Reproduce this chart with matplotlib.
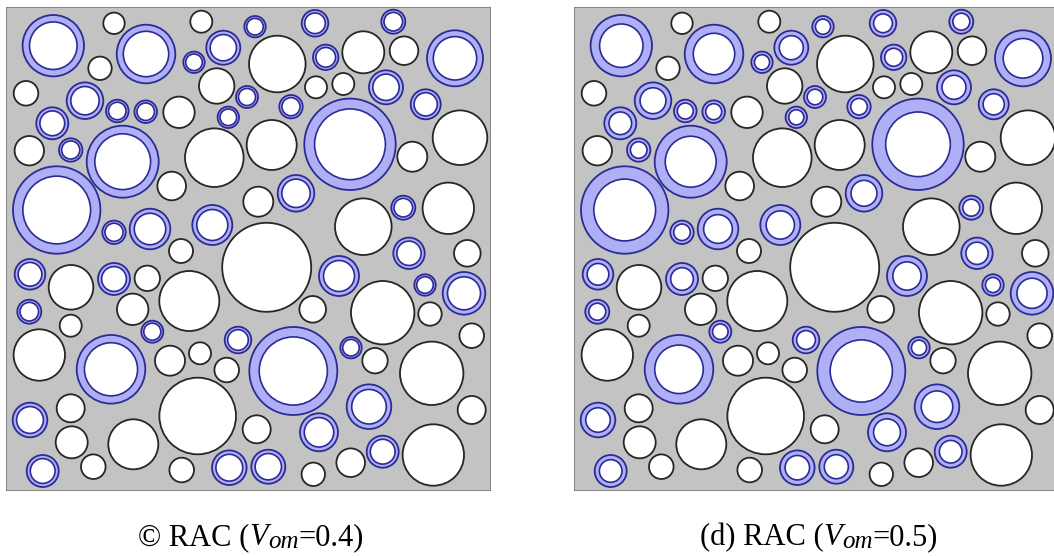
import numpy as np
import matplotlib
matplotlib.use('Agg')
import matplotlib.pyplot as plt
from matplotlib.patches import Circle, Rectangle

# Fonts: Times-like serif for the captions
plt.rcParams['font.family'] = ['Liberation Serif', 'DejaVu Serif']

# Aggregate layout (same in both specimens) in
# specimen units: centre x, centre y, outer radius, recycled (coated) flag
agg_x = [53.3, 114, 146, 201.3, 223.3, 194, 100, 216.7, 26, 85,
         117.3, 145.7, 179, 228.3, 52.3, 29.3, 70.7, 122.7, 214.3, 171.7,
         56.7, 114, 150, 212.3, 255, 315, 393.3, 277.3, 325.7, 363.3,
         404, 455, 316, 343.3, 386, 247, 291, 425.7, 350, 271.7,
         460, 412.3, 296, 258.3, 363.3, 403.3, 448.3, 30, 71, 114,
         147.3, 189.3, 181, 29.3, 70.7, 132.7, 152.3, 39.3, 111, 170,
         200, 238, 226.7, 30, 70.7, 197.7, 71.7, 133.3, 42.7, 93.3,
         181.7, 229.3, 266.7, 409, 467.3, 339, 425, 464, 312.7, 382.7,
         430, 471.7, 293.3, 351, 375, 431.7, 369, 471.7, 319, 256.7,
         382.7, 433.3, 350.7, 268.3, 313.3]
agg_y = [45.7, 23.3, 54, 21.7, 47.7, 62.3, 68.3, 86, 93.3, 100.7,
         111, 111.7, 112.3, 117.3, 123.3, 150.7, 150, 161.7, 157.7, 186,
         210, 232.3, 229, 225, 26.7, 23.3, 21.7, 64, 57.3, 52.3,
         50.7, 58.3, 87.3, 84, 87.3, 97, 106.7, 104.3, 144.3, 145,
         137.7, 156.7, 193.3, 201.7, 226.7, 207.7, 208.3, 274.3, 287.3, 279,
         278.3, 301, 251, 311.7, 325.7, 309.3, 331.7, 355, 369.3, 360.7,
         353.3, 340, 370, 420, 408.3, 416, 442.3, 444.3, 471, 466.7,
         470, 467.7, 267.3, 253.3, 253.3, 276, 285, 293.3, 309.3, 312.7,
         314, 335.7, 371, 347.7, 360.7, 373.3, 406.7, 410, 432.3, 429.3,
         451.7, 455, 462.7, 466.7, 474.3]
agg_r = [30.7, 10.7, 29.3, 11, 17, 10.7, 11.7, 17.7, 12.3, 18.3,
         11.3, 11.3, 15.7, 10.7, 16, 14.7, 11.7, 36, 29.3, 14.3,
         43.7, 11.7, 20.3, 20, 10.7, 13.3, 12, 28.3, 12.7, 21,
         14.3, 28, 11, 11, 17, 11, 11.7, 15, 45.7, 25,
         27.3, 15, 18.3, 15, 28.3, 12, 25.7, 15.3, 22.3, 16,
         12.7, 30, 12, 12, 11, 15.7, 11, 25.7, 34.3, 15,
         11, 13.3, 12.3, 17.3, 14, 38.3, 16, 25, 16, 12.3,
         12.3, 17.3, 44.5, 15.7, 13.3, 20, 10.7, 21.3, 13.3, 31.7,
         11.7, 12.3, 44, 10.7, 12.7, 31.7, 22.3, 14, 19, 14,
         16, 30.7, 14.3, 17, 11.7]
recycled = [1, 0, 1, 0, 1, 1, 0, 0, 0, 1,
            1, 1, 0, 1, 1, 0, 1, 1, 0, 0,
            1, 1, 1, 1, 1, 1, 1, 0, 1, 0,
            0, 1, 0, 0, 1, 1, 1, 1, 1, 0,
            0, 0, 1, 0, 0, 1, 0, 1, 0, 1,
            0, 0, 0, 1, 0, 0, 1, 0, 1, 0,
            0, 1, 0, 1, 0, 0, 0, 0, 1, 0,
            0, 1, 0, 1, 0, 1, 1, 1, 0, 0,
            0, 0, 1, 1, 0, 0, 1, 0, 1, 0,
            1, 0, 0, 1, 0]

# Old mortar volume fraction of each specimen and its caption prefix
v_om = [0.4, 0.5]
prefixes = ['© RAC (', '(d) RAC (']

# Specimen extent
x_min, x_max = 6, 491
y_min, y_max = 7, 491

mortar_color = '#c3c3c3'
om_color = '#afaff5'
om_edge = '#2b2b95'


def draw_specimen(ax, vom):
    """Draws one mesoscale specimen with natural and recycled aggregates."""
    ax.set_xlim(x_min, x_max)
    ax.set_ylim(y_max, y_min)
    ax.axis('off')

    # Mortar matrix
    ax.add_patch(Rectangle((x_min, y_min), x_max - x_min, y_max - y_min,
                           facecolor=mortar_color, edgecolor='#7a7a7a',
                           lw=1.2, zorder=0))

    # Inner radius of the old mortar shell from the volume fraction
    ratio = np.sqrt(1 - vom)
    for x, y, r, rec in zip(agg_x, agg_y, agg_r, recycled):
        if rec:
            ax.add_patch(Circle((x, y), r, facecolor=om_color,
                                edgecolor=om_edge, lw=1.3, zorder=2))
            ax.add_patch(Circle((x, y), r * ratio, facecolor='white',
                                edgecolor=om_edge, lw=1.2, zorder=3))
        else:
            ax.add_patch(Circle((x, y), r, facecolor='white',
                                edgecolor='#262626', lw=1.3, zorder=2))


def draw_caption(fig, cx, base_y, prefix, vom):
    """Writes a caption centred at cx (pixels), with an italic subscript."""
    pieces = [(prefix, 'normal', 22, 0),
              ('V', 'italic', 22, 0),
              ('om', 'italic', 18, -3),
              ('=%.1f)' % vom, 'normal', 22, 0)]
    texts = []
    for s, style, size, dy in pieces:
        t = fig.text(0, 0, s, fontsize=size, style=style, va='baseline',
                     ha='left', transform=None)
        texts.append((t, dy))

    # Measure the pieces and lay them out side by side
    renderer = fig.canvas.get_renderer()
    widths = [t.get_window_extent(renderer).width for t, _ in texts]
    x = cx - sum(widths) / 2
    for (t, dy), w in zip(texts, widths):
        t.set_position((x, base_y + dy))
        x += w


fig = plt.figure(figsize=(10.54, 5.56), dpi=100)

# Panel positions in figure fractions
lefts = [6, 574]
for left, vom, prefix in zip(lefts, v_om, prefixes):
    ax = fig.add_axes([left / 1054, 65 / 556, 485 / 1054, 484 / 556])
    draw_specimen(ax, vom)
    draw_caption(fig, left + 245, 556 - 545, prefix, vom)

fig.savefig('out.png', dpi=100)
